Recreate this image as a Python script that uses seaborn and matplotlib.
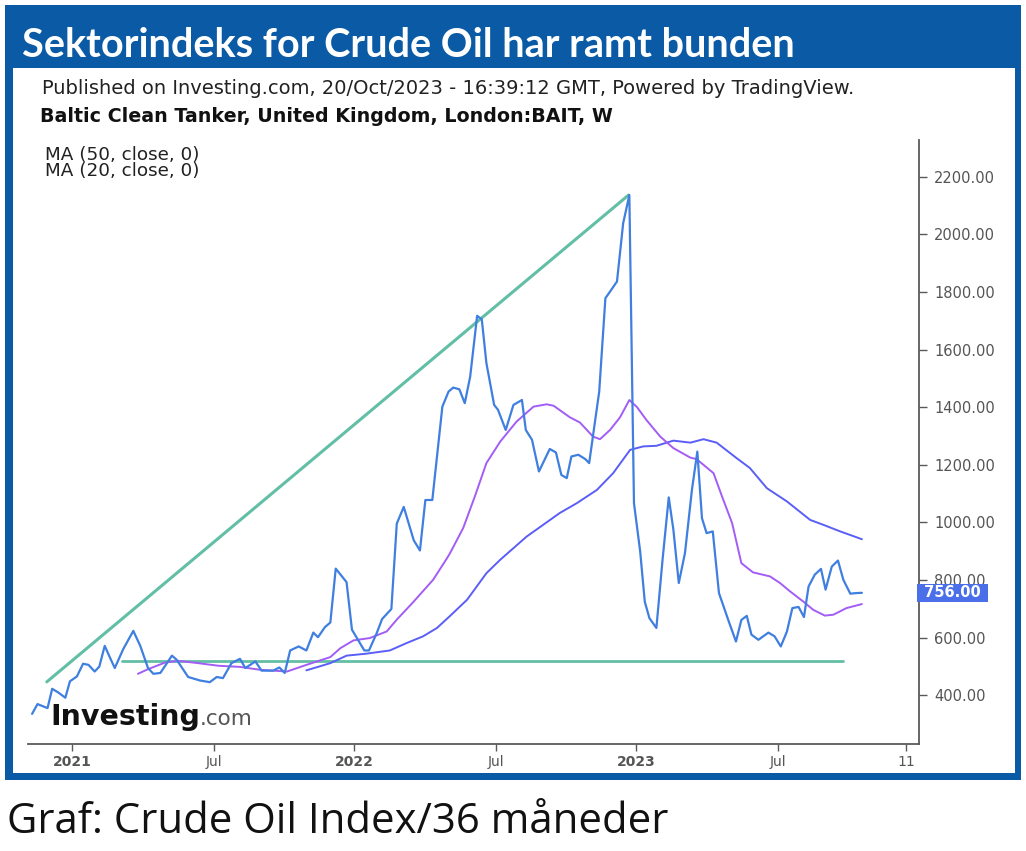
import numpy as np
import pandas as pd
import matplotlib
matplotlib.use("Agg")
import matplotlib.pyplot as plt
import matplotlib.transforms as mtransforms
from matplotlib.patches import Rectangle
import seaborn as sns

# ---------------- data ----------------
base_date = "2021-01-01"   # day offsets below are relative to this date

price_days = [-52, -45, -32, -26, -18, -9, -3, 6, 14, 21,
              29, 35, 42, 49, 55, 66, 79, 88, 98, 105,
              114, 129, 135, 150, 165, 178, 187, 195, 206, 217,
              224, 237, 245, 260, 268, 275, 282, 293, 303, 312,
              318, 327, 334, 341, 355, 362, 378, 384, 394, 401,
              413, 420, 429, 442, 450, 457, 466, 479, 487, 493,
              501, 508, 515, 524, 530, 536, 546, 551, 561, 571,
              582, 587, 595, 604, 618, 626, 633, 640, 646, 655,
              664, 669, 682, 690, 696, 705, 713, 721, 727, 735,
              741, 747, 756, 764, 772, 778, 785, 793, 802, 809,
              815, 821, 829, 837, 849, 859, 866, 873, 879, 888,
              901, 909, 917, 925, 932, 940, 947, 953, 961, 969,
              975, 983, 991, 998, 1007, 1014, 1022]
price_vals = [336, 370, 356, 423, 410, 392, 449, 466, 510, 506,
              483, 500, 572, 530, 495, 561, 624, 572, 495, 475,
              478, 538, 524, 464, 452, 446, 464, 460, 512, 527,
              495, 518, 486, 486, 497, 478, 556, 570, 556, 618,
              602, 637, 653, 840, 793, 628, 556, 556, 616, 665,
              700, 996, 1054, 938, 903, 1078, 1078, 1402, 1454, 1468,
              1462, 1414, 1506, 1717, 1705, 1553, 1408, 1391, 1321, 1408,
              1425, 1321, 1287, 1177, 1255, 1243, 1165, 1154, 1229, 1235,
              1220, 1206, 1454, 1778, 1801, 1836, 2038, 2136, 1067, 900,
              725, 668, 634, 871, 1087, 975, 790, 894, 1113, 1246,
              1015, 963, 969, 755, 662, 587, 662, 676, 611, 593,
              618, 605, 570, 622, 703, 707, 672, 778, 819, 839,
              767, 847, 868, 801, 753, 755, 756]

ma20_days = [85, 98, 120, 137, 163, 189, 217, 243, 278, 303,
             334, 347, 364, 385, 407, 420, 441, 467, 485, 489,
             506, 521, 536, 554, 575, 597, 614, 623, 644, 657,
             674, 683, 696, 709, 721, 731, 743, 761, 778, 800,
             808, 830, 841, 854, 866, 881, 903, 916, 929, 946,
             959, 974, 985, 1002, 1022]
ma20_vals = [475, 491, 514, 520, 512, 503, 499, 489, 483, 506,
             533, 564, 591, 599, 622, 663, 723, 801, 876, 894,
             981, 1090, 1206, 1281, 1350, 1402, 1410, 1405, 1365, 1347,
             1298, 1289, 1321, 1365, 1425, 1400, 1356, 1298, 1258, 1225,
             1220, 1171, 1090, 998, 859, 827, 813, 790, 761, 726,
             697, 677, 680, 703, 717]

ma50_days = [303, 334, 355, 381, 411, 433, 454, 472, 489, 511,
             536, 554, 588, 631, 653, 679, 700, 722, 739, 756,
             778, 800, 817, 834, 860, 877, 899, 925, 955, 972,
             994, 1022]
ma50_vals = [487, 512, 538, 545, 556, 582, 605, 634, 676, 732,
             824, 871, 951, 1033, 1067, 1113, 1171, 1252, 1264, 1266,
             1284, 1277, 1289, 1277, 1223, 1189, 1119, 1073, 1009, 992,
             969, 942]

trend_up_days = [-33, 720]
trend_up_vals = [447, 2136]
support_days = [64, 998]
support_vals = [520, 520]

xtick_dates = ["2021-01-01", "2021-07-03", "2022-01-01", "2022-07-03",
               "2023-01-01", "2023-07-03", "2023-12-16"]
xtick_labels = ["2021", "Jul", "2022", "Jul", "2023", "Jul", "11"]
xtick_bold = [True, False, True, False, True, False, False]
ytick_vals = [400, 600, 800, 1000, 1200, 1400, 1600, 1800, 2000, 2200]
last_value = 756.00

title = "Sektorindeks for Crude Oil har ramt bunden"
published = "Published on Investing.com, 20/Oct/2023 - 16:39:12 GMT, Powered by TradingView."
instrument = "Baltic Clean Tanker, United Kingdom, London:BAIT, W"
legend_lines = ["MA (50, close, 0)", "MA (20, close, 0)"]
caption = "Graf: Crude Oil Index/36 måneder"

# ---------------- styling ----------------
sns.set_style("white")
plt.rcParams["font.family"] = ["DejaVu Sans"]

W, H = 1026, 851
FRAME_BLUE = "#0a5aa5"
PRICE_C = "#3f7fe0"
MA20_C = "#a35cf5"
MA50_C = "#5a5ef7"
GREEN_C = "#62bfa6"

base = pd.Timestamp(base_date)
def to_dates(days):
    return base + pd.to_timedelta(np.asarray(days, dtype=float), unit="D")

fig = plt.figure(figsize=(W / 100, H / 100), dpi=100)
fig.patch.set_facecolor("white")

# blue frame + white panel (drawn beneath the axes)
fig.patches.append(Rectangle((5 / W, 1 - 780 / H), 1016 / W, 775 / H,
                             transform=fig.transFigure, facecolor=FRAME_BLUE,
                             edgecolor="none", zorder=-10))
fig.patches.append(Rectangle((13 / W, 1 - 773 / H), 1002 / W, 705 / H,
                             transform=fig.transFigure, facecolor="white",
                             edgecolor="none", zorder=-9))

ax = fig.add_axes([28 / W, 1 - 744 / H, (919 - 28) / W, (744 - 140) / H])
ax.set_zorder(2)
ax.set_facecolor("none")

df_price = pd.DataFrame({"date": to_dates(price_days), "value": price_vals})
df_ma20 = pd.DataFrame({"date": to_dates(ma20_days), "value": ma20_vals})
df_ma50 = pd.DataFrame({"date": to_dates(ma50_days), "value": ma50_vals})
df_up = pd.DataFrame({"date": to_dates(trend_up_days), "value": trend_up_vals})
df_sup = pd.DataFrame({"date": to_dates(support_days), "value": support_vals})

sns.lineplot(data=df_up, x="date", y="value", ax=ax, color=GREEN_C, lw=2.2, errorbar=None)
sns.lineplot(data=df_sup, x="date", y="value", ax=ax, color=GREEN_C, lw=2.0, errorbar=None)
sns.lineplot(data=df_ma50, x="date", y="value", ax=ax, color=MA50_C, lw=1.4, errorbar=None)
sns.lineplot(data=df_ma20, x="date", y="value", ax=ax, color=MA20_C, lw=1.4, errorbar=None)
sns.lineplot(data=df_price, x="date", y="value", ax=ax, color=PRICE_C, lw=1.6, errorbar=None)

ax.set_xlim(base - pd.Timedelta(days=57.3), base + pd.Timedelta(days=1095.9))
ax.set_ylim(231.5, 2327)
ax.set_xlabel("")
ax.set_ylabel("")

# spines
for s in ["left", "top"]:
    ax.spines[s].set_visible(False)
for s in ["right", "bottom"]:
    ax.spines[s].set_visible(True)
    ax.spines[s].set_color("#5a5a5a")
    ax.spines[s].set_linewidth(1.3)

# y axis on right
ax.yaxis.tick_right()
ax.set_yticks(ytick_vals)
ax.set_yticklabels([f"{v:.2f}" for v in ytick_vals])
ax.tick_params(axis="y", which="both", right=True, left=False, length=6,
               width=1.0, color="#5a5a5a", labelsize=10.5, labelcolor="#555555", pad=5)

# x axis
ax.set_xticks(pd.to_datetime(xtick_dates))
ax.set_xticklabels(xtick_labels)
ax.tick_params(axis="x", which="both", bottom=True, length=5, width=1.0,
               color="#5a5a5a", labelsize=10, labelcolor="#555555", pad=3)
for lab, b in zip(ax.get_xticklabels(), xtick_bold):
    if b:
        lab.set_fontweight("bold")
ax.grid(False)

# last value tag
trans = mtransforms.blended_transform_factory(ax.transAxes, ax.transData)
ax.text(1.0, last_value, f" {last_value:.2f} ", transform=trans, ha="left", va="center",
        fontsize=10.5, color="white", fontweight="bold",
        bbox=dict(boxstyle="square,pad=0.12", facecolor="#4a6fe8", edgecolor="none"),
        zorder=10, clip_on=False)

# header texts
fig.text(22 / W, 1 - 57 / H, title, fontsize=28.5, color="white", fontweight="bold",
         family=["Lato", "DejaVu Sans"], ha="left", va="baseline")
fig.text(42 / W, 1 - 88 / H, published, fontsize=14.0, color="#222222",
         ha="left", va="center")
fig.text(40 / W, 1 - 116 / H, instrument, fontsize=13.7, color="#111111",
         fontweight="bold", ha="left", va="center")
fig.text(45 / W, 1 - 155 / H, legend_lines[0], fontsize=13.2, color="#222222",
         ha="left", va="center")
fig.text(45 / W, 1 - 171 / H, legend_lines[1], fontsize=13.2, color="#222222",
         ha="left", va="center")

# investing.com logo
fig.text(50 / W, 1 - 725 / H, "Investing", fontsize=20.5, color="#111111",
         fontweight="bold", ha="left", va="baseline")
fig.text(200 / W, 1 - 725 / H, ".com", fontsize=15.5, color="#555555",
         ha="left", va="baseline")

# caption
fig.text(7 / W, 1 - 833 / H, caption, fontsize=30.2, color="#111111",
         family=["Open Sans", "DejaVu Sans"], ha="left", va="baseline")

fig.savefig("out.png", dpi=100, facecolor="white")
